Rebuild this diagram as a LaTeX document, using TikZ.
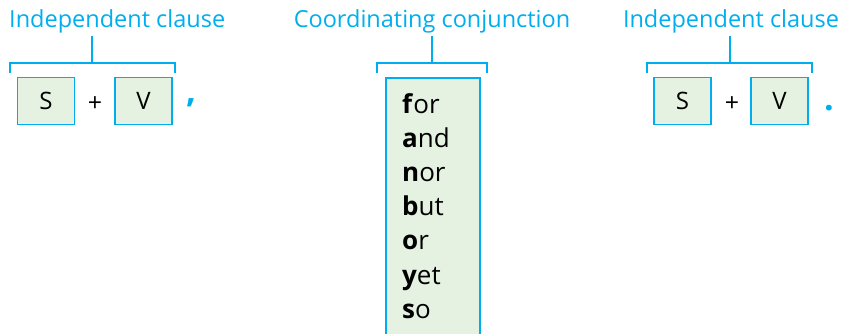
\documentclass[tikz,border=0pt]{standalone}
\usepackage{fontspec}
\setmainfont{Open Sans}
\usetikzlibrary{positioning}
\definecolor{clauseblue}{RGB}{0,174,239}
\definecolor{boxgreen}{RGB}{230,242,225}

\begin{document}
\begin{tikzpicture}[x=1pt,y=-1pt,
    heading/.style={text=clauseblue,font=\fontsize{23.5}{26}\selectfont,
      inner sep=0pt,anchor=base},
    partbox/.style={draw=clauseblue,fill=boxgreen,line width=1.2pt,
      minimum width=57pt,minimum height=47pt,inner sep=0pt,
      font=\fontsize{24}{26}\selectfont},
    plus/.style={font=\fontsize{25}{28}\selectfont,inner sep=0pt},
    bracket/.style={clauseblue,line width=1.5pt},
    mark sign/.style={text=clauseblue,font=\fontsize{34}{36}\selectfont\bfseries,
      inner sep=0pt,anchor=base},
    word/.style={anchor=base west,inner sep=0pt,font=\fontsize{26}{28}\selectfont}]
  \useasboundingbox (0,0) rectangle (842,333);
  % headings
  \node[heading,anchor=base west] (h1) at (9,27) {Independent clause};
  \node[heading] (h2) at (432,27) {Coordinating conjunction};
  \node[heading] (h3) at (731,27) {Independent clause};
  % stems and brackets
  \foreach \n/\xl/\xm/\xr in {1/10/92/175, 2/377/432/487, 3/647/730/812} {
    \coordinate (s\n) at (\xm,36);
    \coordinate (b\n) at (\xm,63);
    \draw[bracket] (s\n) -- (b\n);
    \draw[bracket] (\xl,73) -- (\xl,63) -- (\xr,63) -- (\xr,73);
  }
  % first clause
  \node[partbox] (S1) at (46,101) {S};
  \node[plus] (p1) at (95,104) {+};
  \node[partbox] (V1) at (143.5,101) {V};
  \node[mark sign] (comma) at (191,102) {,};
  % conjunction column
  \fill[boxgreen] (386,78) rectangle (480,340);
  \draw[clauseblue,line width=1.2pt] (386,340) -- (386,78) -- (480,78) -- (480,340);
  \foreach \i/\b/\r in {1/f/or, 2/a/nd, 3/n/or, 4/b/ut, 5/o/r, 6/y/et, 7/s/o} {
    \node[word] (w\i) at (402,{113+34.2*(\i-1)}) {\textbf{\b}\r};
  }
  % second clause
  \node[partbox] (S2) at (682.5,101) {S};
  \node[plus] (p2) at (732,104) {+};
  \node[partbox] (V2) at (779.5,101) {V};
  \node[mark sign] (stop) at (829,110) {.};
\end{tikzpicture}
\end{document}
